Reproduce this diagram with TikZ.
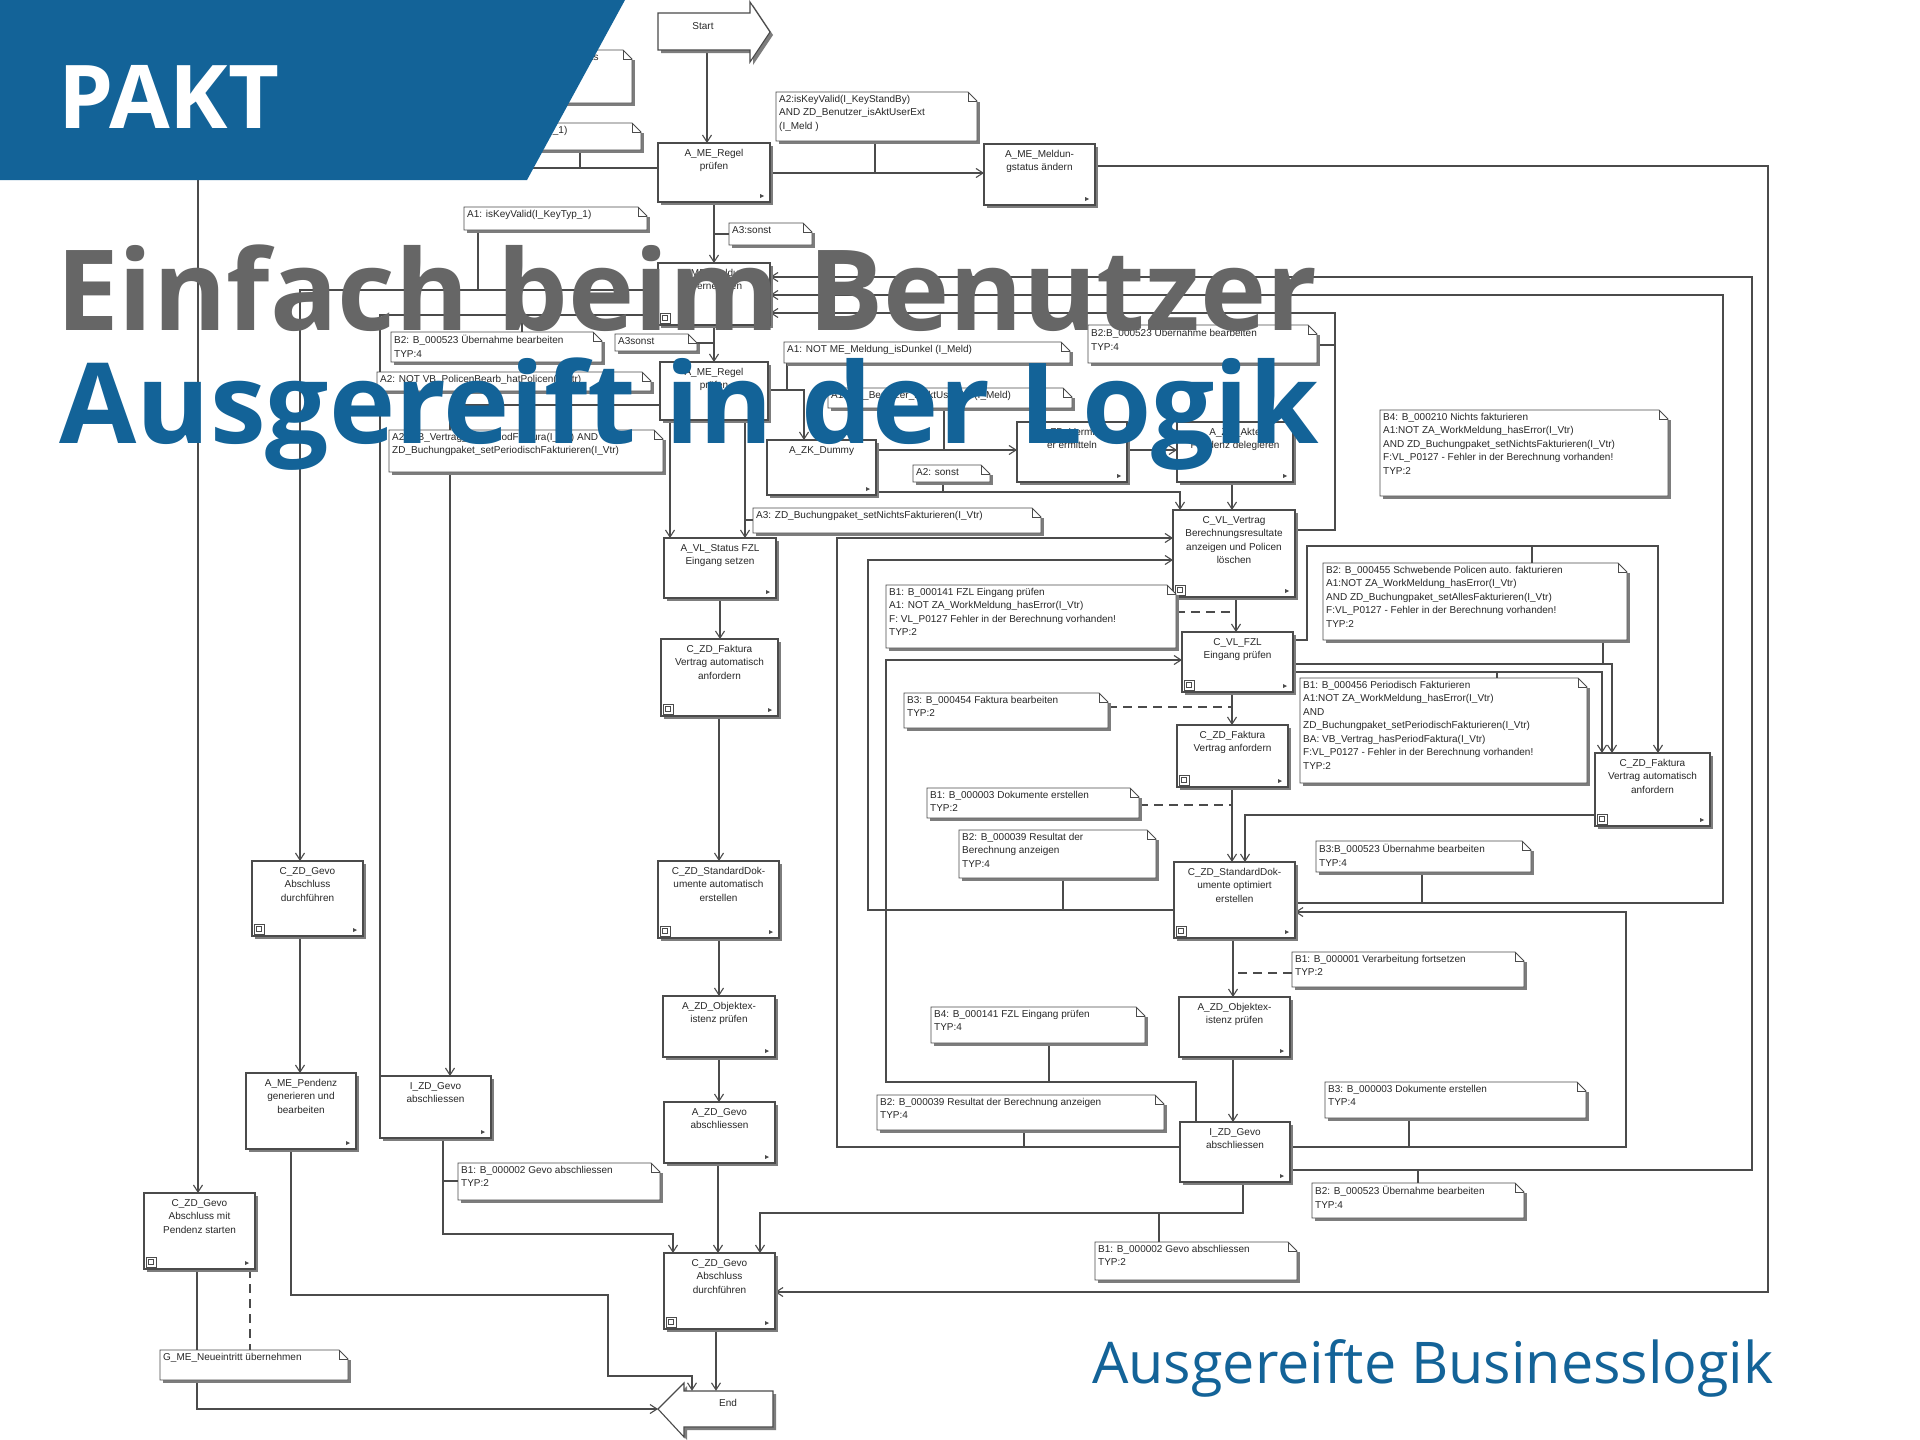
\documentclass[tikz,border=0pt]{standalone}
\usepackage{fontspec}
\setmainfont{Liberation Sans}
\newfontfamily\titlefont{Open Sans}
\usetikzlibrary{arrows.meta}
\pgfdeclarelayer{bg}
\pgfsetlayers{bg,main}
\definecolor{bannerblue}{RGB}{19,99,152}
\definecolor{titlegray}{RGB}{102,102,102}
\definecolor{linec}{RGB}{75,75,75}
\definecolor{shadowc}{RGB}{125,125,125}
\definecolor{textc}{RGB}{40,40,40}
\tikzset{
  ln/.style={draw=linec, line width=1.1pt},
  arr/.style={ln, -{Straight Barb[length=7pt,width=9pt]}},
  dsh/.style={ln, dash pattern=on 9pt off 6pt},
  notel/.style={draw=linec, line width=0.9pt},
  procbox/.style={draw=linec, fill=white, line width=1.1pt, inner sep=0pt, outer sep=0pt},
  boxtext/.style={font=\fontsize{10}{13.5}\selectfont, align=center, text=textc, inner sep=0pt},
  notetext/.style={font=\fontsize{10}{13.5}\selectfont, align=left, text=textc, inner sep=0pt},
}
\newcommand{\procnode}[6]{%
  \fill[shadowc] (#2+3,#3+3) rectangle (#4+3,#5+3);
  \node[procbox, minimum width={#4-#2}, minimum height={#5-#3}] (#1) at ({(#2+#4)/2},{(#3+#5)/2}) {};
  \node[boxtext, anchor=north] (#1-t) at ([yshift=-6pt]#1.north) {#6};
  \fill[linec] ([shift={(-10pt,8pt)}]#1.south east) -- ++(4pt,-2pt) -- ++(-4pt,-2pt) -- cycle;
}
\newcommand{\subicon}[1]{%
  \draw[linec, line width=0.7pt, fill=white] ([shift={(2pt,2pt)}]#1.south west) rectangle ++(10pt,10pt);
  \draw[linec, line width=0.6pt] ([shift={(4.5pt,4.5pt)}]#1.south west) rectangle ++(5pt,5pt);
}
\newcommand{\notenode}[6]{%
  \fill[shadowc] (#2+3,#5) rectangle (#4+3,#5+3);
  \fill[shadowc] (#4,#3+10) rectangle (#4+3,#5+3);
  \node[inner sep=0pt, outer sep=0pt, minimum width={#4-#2}, minimum height={#5-#3}] (#1) at ({(#2+#4)/2},{(#3+#5)/2}) {};
  \draw[notel, fill=white] (#1.north west) -- ([xshift=-9pt]#1.north east) -- ([yshift=-9pt]#1.north east) -- (#1.south east) -- (#1.south west) -- cycle;
  \draw[notel] ([xshift=-9pt]#1.north east) -- ([shift={(-9pt,-9pt)}]#1.north east) -- ([yshift=-9pt]#1.north east);
  \node[notetext, anchor=north west] (#1-t) at ([shift={(3pt,-3pt)}]#1.north west) {#6};
}
\begin{document}
\begin{tikzpicture}[x=1pt, y=-1pt, line join=miter]
\useasboundingbox (0,0) rectangle (1920,1440);

% ---------- Start / End ----------
\fill[shadowc] (661,16) -- (753,16) -- (753,5) -- (773,35) -- (753,65) -- (753,53) -- (661,53) -- cycle;
\draw[procbox] (658,13) -- (750,13) -- (750,2) -- (770,32) -- (750,62) -- (750,50) -- (658,50) -- cycle;
\node[inner sep=0pt, minimum width=92, minimum height=37] (Start) at (704,31.5) {};
\node[boxtext] (Start-t) at (703,26) {Start};

\fill[shadowc] (776,1394) -- (687,1394) -- (687,1386) -- (661,1412) -- (687,1440) -- (687,1430) -- (776,1430) -- cycle;
\draw[procbox] (773,1391) -- (684,1391) -- (684,1383) -- (658,1409) -- (684,1437) -- (684,1427) -- (773,1427) -- cycle;
\node[inner sep=0pt, minimum width=89, minimum height=36] (End) at (728.5,1409) {};
\coordinate (Endtip) at (658,1409);
\node[boxtext] (End-t) at (728,1403) {End};

% ---------- process boxes ----------
\procnode{R1}{658}{143}{770}{202}{A\_ME\_Regel\\prüfen}
\procnode{MS}{984}{144}{1095}{205}{A\_ME\_Meldun-\\gstatus ändern}
\procnode{CM}{658}{263}{770}{325}{C\_ME\_Meldung\\übernehmen}\subicon{CM}
\procnode{R2}{660}{362}{768}{420}{A\_ME\_Regel\\prüfen}
\procnode{ZK}{767}{440}{876}{495}{A\_ZK\_Dummy}
\procnode{VE}{1017}{422}{1127}{482}{A\_ZD\_Vermittl-\\er ermitteln}
\procnode{PD}{1177}{422}{1293}{482}{A\_ZD\_Akte\\Pendenz delegieren}
\procnode{CV}{1173}{510}{1295}{597}{C\_VL\_Vertrag\\Berechnungsresultate\\anzeigen und Policen\\löschen}\subicon{CV}
\procnode{VS}{664}{538}{776}{598}{A\_VL\_Status FZL\\Eingang setzen}
\procnode{CF}{1182}{632}{1293}{692}{C\_VL\_FZL\\Eingang prüfen}\subicon{CF}
\procnode{FA1}{661}{639}{778}{716}{C\_ZD\_Faktura\\Vertrag automatisch\\anfordern}\subicon{FA1}
\procnode{FV}{1177}{725}{1288}{787}{C\_ZD\_Faktura\\Vertrag anfordern}\subicon{FV}
\procnode{FA2}{1595}{753}{1710}{826}{C\_ZD\_Faktura\\Vertrag automatisch\\anfordern}\subicon{FA2}
\procnode{SD1}{658}{861}{779}{938}{C\_ZD\_StandardDok-\\umente automatisch\\erstellen}\subicon{SD1}
\procnode{SD2}{1174}{862}{1295}{938}{C\_ZD\_StandardDok-\\umente optimiert\\erstellen}\subicon{SD2}
\procnode{GA1}{252}{861}{363}{936}{C\_ZD\_Gevo\\Abschluss\\durchführen}\subicon{GA1}
\procnode{OE1}{663}{996}{775}{1057}{A\_ZD\_Objektex-\\istenz prüfen}
\procnode{OE2}{1179}{997}{1290}{1057}{A\_ZD\_Objektex-\\istenz prüfen}
\procnode{PG}{246}{1073}{356}{1149}{A\_ME\_Pendenz\\generieren und\\bearbeiten}
\procnode{IG1}{380}{1076}{491}{1138}{I\_ZD\_Gevo\\abschliessen}
\procnode{AG}{664}{1102}{775}{1163}{A\_ZD\_Gevo\\abschliessen}
\procnode{IG2}{1180}{1122}{1290}{1182}{I\_ZD\_Gevo\\abschliessen}
\procnode{GP}{144}{1193}{255}{1269}{C\_ZD\_Gevo\\Abschluss mit\\Pendenz starten}\subicon{GP}
\procnode{GA2}{664}{1253}{775}{1329}{C\_ZD\_Gevo\\Abschluss\\durchführen}\subicon{GA2}

% ---------- notes ----------
\notenode{NTLa}{470}{50}{632}{103}{A1: ZD\_Meldung\_isDefaults}
\notenode{NTLb}{440}{123}{641}{150}{A2: isKeyValid(I\_KeyTyp\_1)}
\notenode{NAtop}{776}{92}{977}{141}{A2:isKeyValid(I\_KeyStandBy)\\AND ZD\_Benutzer\_isAktUserExt\\(I\_Meld )}
\notenode{NAone}{464}{207}{647}{230}{A1: isKeyValid(I\_KeyTyp\_1)}
\notenode{NAthreea}{729}{223}{812}{245}{A3:sonst}
\notenode{NBtwoa}{391}{332}{602}{362}{B2: B\_000523 Übernahme bearbeiten\\TYP:4}
\notenode{NAthreeb}{615}{334}{697}{351}{A3sonst}
\notenode{NBtwob}{1088}{325}{1317}{363}{B2:B\_000523 Übernahme bearbeiten\\TYP:4}
\notenode{NAonenot}{784}{342}{1070}{363}{A1: NOT ME\_Meldung\_isDunkel (I\_Meld)}
\notenode{NAtwonot}{377}{372}{651}{391}{A2: NOT VB\_PolicenBearb\_hatPolicen(I\_Vtr)}
\notenode{NAonehid}{828}{388}{1072}{408}{A1: ZD\_Benutzer\_isAktUserExt (I\_Meld)}
\notenode{NAtwovb}{389}{430}{663}{472}{A2: VB\_Vertrag\_hasPeriodFaktura(I\_Vtr) AND\\ZD\_Buchungpaket\_setPeriodischFakturieren(I\_Vtr)}
\notenode{NAtwos}{913}{465}{990}{482}{A2: sonst}
\notenode{NAthreec}{753}{508}{1041}{533}{A3: ZD\_Buchungpaket\_setNichtsFakturieren(I\_Vtr)}
\notenode{NBfour}{1380}{410}{1668}{496}{B4: B\_000210 Nichts fakturieren\\A1:NOT ZA\_WorkMeldung\_hasError(I\_Vtr)\\AND ZD\_Buchungpaket\_setNichtsFakturieren(I\_Vtr)\\F:VL\_P0127 - Fehler in der Berechnung vorhanden!\\TYP:2}
\notenode{NBtwosch}{1323}{563}{1627}{640}{B2: B\_000455 Schwebende Policen auto. fakturieren\\A1:NOT ZA\_WorkMeldung\_hasError(I\_Vtr)\\AND ZD\_Buchungpaket\_setAllesFakturieren(I\_Vtr)\\F:VL\_P0127 - Fehler in der Berechnung vorhanden!\\TYP:2}
\notenode{NBonefzl}{886}{585}{1176}{648}{B1: B\_000141 FZL Eingang prüfen\\A1: NOT ZA\_WorkMeldung\_hasError(I\_Vtr)\\F: VL\_P0127 Fehler in der Berechnung vorhanden!\\TYP:2}
\notenode{NBoneper}{1300}{678}{1587}{783}{B1: B\_000456 Periodisch Fakturieren\\A1:NOT ZA\_WorkMeldung\_hasError(I\_Vtr)\\AND\\ZD\_Buchungpaket\_setPeriodischFakturieren(I\_Vtr)\\BA: VB\_Vertrag\_hasPeriodFaktura(I\_Vtr)\\F:VL\_P0127 - Fehler in der Berechnung vorhanden!\\TYP:2}
\notenode{NBthreefak}{904}{693}{1108}{728}{B3: B\_000454 Faktura bearbeiten\\TYP:2}
\notenode{NBonedok}{927}{788}{1139}{818}{B1: B\_000003 Dokumente erstellen\\TYP:2}
\notenode{NBtwores}{959}{830}{1156}{878}{B2: B\_000039 Resultat der\\Berechnung anzeigen\\TYP:4}
\notenode{NBthreeueb}{1316}{841}{1531}{872}{B3:B\_000523 Übernahme bearbeiten\\TYP:4}
\notenode{NBonever}{1292}{952}{1524}{987}{B1: B\_000001 Verarbeitung fortsetzen\\TYP:2}
\notenode{NBfourfzl}{931}{1007}{1145}{1043}{B4: B\_000141 FZL Eingang prüfen\\TYP:4}
\notenode{NBthreedok}{1325}{1082}{1586}{1118}{B3: B\_000003 Dokumente erstellen\\TYP:4}
\notenode{NBtworesb}{877}{1095}{1164}{1130}{B2: B\_000039 Resultat der Berechnung anzeigen\\TYP:4}
\notenode{NBonegevoL}{458}{1163}{660}{1200}{B1: B\_000002 Gevo abschliessen\\TYP:2}
\notenode{NBtwoueb}{1312}{1183}{1524}{1218}{B2: B\_000523 Übernahme bearbeiten\\TYP:4}
\notenode{NBonegevo}{1095}{1242}{1297}{1280}{B1: B\_000002 Gevo abschliessen\\TYP:2}
\notenode{NGME}{160}{1350}{348}{1380}{G\_ME\_Neueintritt übernehmen}

% ---------- connectors (behind) ----------
\begin{pgfonlayer}{bg}
\fill[white] (0,0) rectangle (1920,1440);
\draw[arr] (Start.south -| 707,0) -- (R1.north -| 707,0);
\draw[arr] (R1.east |- 0,173) -- (MS.west |- 0,173);
\draw[arr] (MS.east |- 0,166) -- (1768,166) -- (1768,1292) -- (GA2.east |- 0,1292);
\draw[arr] (R1.south -| 714,0) -- (CM.north -| 714,0);
\draw[arr] (R1.west |- 0,168) -- (198,168) -- (GP.north -| 198,0);
\draw[arr] (CM.west |- 0,290) -- (300,290) -- (GA1.north -| 300,0);
\draw[ln] (CM.west |- 0,315) -- (380,315) -- (IG1.south west);
\draw[arr] (R2.west |- 0,405) -- (450,405) -- (IG1.north -| 450,0);
\draw[arr] (CM.south -| 714,0) -- (R2.north -| 714,0);
\draw[arr] (R2.south -| 670,0) -- (VS.north -| 670,0);
\draw[arr] (R2.south -| 745,0) -- (VS.north -| 745,0);
\draw[arr] (R2.east |- 0,390) -- (804,390) -- (ZK.north -| 804,0);
\draw[arr] (ZK.east |- 0,450) -- (VE.west |- 0,450);
\draw[arr] (ZK.east |- 0,492) -- (1180,492) -- (CV.north -| 1180,0);
\draw[arr] (VE.east |- 0,450) -- (PD.west |- 0,450);
\draw[arr] (PD.south -| 1232,0) -- (CV.north -| 1232,0);
\draw[arr] (CV.east |- 0,530) -- (1335,530) -- (1335,313) -- (CM.east |- 0,313);
\draw[arr] (SD2.east |- 0,903) -- (1723,903) -- (1723,295) -- (CM.east |- 0,295);
\draw[arr] (IG2.east |- 0,1170) -- (1752,1170) -- (1752,277) -- (CM.east |- 0,277);
\draw[arr] (CV.south -| 1236,0) -- (CF.north -| 1236,0);
\draw[arr] (CF.south -| 1232,0) -- (FV.north -| 1232,0);
\draw[arr] (FV.south -| 1232,0) -- (SD2.north -| 1232,0);
\draw[arr] (FA2.west |- 0,815) -- (1245,815) -- (SD2.north -| 1245,0);
\draw[arr] (CF.east |- 0,640) -- (1307,640) -- (1307,546) -- (1658,546) -- (FA2.north -| 1658,0);
\draw[arr] (CF.east |- 0,664) -- (1612,664) -- (FA2.north -| 1612,0);
\draw[arr] (CF.east |- 0,672) -- (1602,672) -- (FA2.north -| 1602,0);
\draw[arr] (SD2.south -| 1233,0) -- (OE2.north -| 1233,0);
\draw[arr] (OE2.south -| 1233,0) -- (IG2.north -| 1233,0);
\draw[arr] (IG2.north -| 1196,0) -- (1196,1082) -- (886,1082) -- (886,660) -- (CF.west |- 0,660);
\draw[arr] (IG2.west |- 0,1147) -- (837,1147) -- (837,538) -- (CV.west |- 0,538);
\draw[arr] (SD2.west |- 0,910) -- (868,910) -- (868,560) -- (CV.west |- 0,560);
\draw[arr] (IG2.east |- 0,1147) -- (1626,1147) -- (1626,912) -- (SD2.east |- 0,912);
\draw[arr] (IG2.south -| 1243,0) -- (1243,1213) -- (760,1213) -- (GA2.north -| 760,0);
\draw[arr] (VS.south -| 720,0) -- (FA1.north -| 720,0);
\draw[arr] (FA1.south -| 719,0) -- (SD1.north -| 719,0);
\draw[arr] (SD1.south -| 719,0) -- (OE1.north -| 719,0);
\draw[arr] (OE1.south -| 719,0) -- (AG.north -| 719,0);
\draw[arr] (AG.south -| 718,0) -- (GA2.north -| 718,0);
\draw[arr] (GA2.south -| 716,0) -- (End.north -| 716,0);
\draw[arr] (IG1.south -| 443,0) -- (443,1234) -- (673,1234) -- (GA2.north -| 673,0);
\draw[arr] (GA1.south -| 300,0) -- (PG.north -| 300,0);
\draw[arr] (PG.south -| 291,0) -- (291,1295) -- (608,1295) -- (608,1376) -- (692,1376) -- (End.north -| 692,0);
\draw[arr] (GP.south -| 197,0) -- (197,1409) -- (Endtip);
% note ties
\draw[ln] (NAtop.south -| 875,0) -- (875,173);
\draw[ln] (NTLb.south -| 580,0) -- (580,168);
\draw[ln] (714,234) -- (NAthreea.west |- 0,234);
\draw[ln] (NAone.south -| 478,0) -- (478,290);
\draw[ln] (NBtwoa.north -| 522,0) -- (522,315);
\draw[ln] (NAthreeb.east |- 0,343) -- (714,343);
\draw[ln] (NAonenot.south -| 787,0) -- (787,390);
\draw[ln] (NAtwonot.south -| 520,0) -- (520,405);
\draw[ln] (NAonehid.south -| 944,0) -- (944,450);
\draw[ln] (NAtwos.south -| 943,0) -- (943,492);
\draw[ln] (745,520) -- (NAthreec.west |- 0,520);
\draw[ln] (NBtwob.east |- 0,345) -- (1335,345);
\draw[ln] (NBtwosch.north -| 1532,0) -- (1532,546);
\draw[ln] (NBtwosch.south -| 1603,0) -- (1603,664);
\draw[ln] (NBoneper.north -| 1497,0) -- (1497,672);
\draw[dsh] (NBonefzl.east |- 0,612) -- (1236,612);
\draw[dsh] (NBthreefak.east |- 0,707) -- (1232,707);
\draw[dsh] (NBonedok.east |- 0,805) -- (1232,805);
\draw[ln] (NBtwores.south -| 1063,0) -- (1063,910);
\draw[ln] (NBthreeueb.south -| 1422,0) -- (1422,903);
\draw[dsh] (NBonever.west |- 0,973) -- (1233,973);
\draw[ln] (NBfourfzl.south -| 1049,0) -- (1049,1082);
\draw[ln] (NBtworesb.south -| 1024,0) -- (1024,1147);
\draw[ln] (NBthreedok.south -| 1409,0) -- (1409,1147);
\draw[ln] (NBtwoueb.north -| 1418,0) -- (1418,1170);
\draw[ln] (NBonegevo.north -| 1159,0) -- (1159,1213);
\draw[ln] (443,1181) -- (NBonegevoL.west |- 0,1181);
\draw[dsh] (GP.south -| 250,0) -- (NGME.north -| 250,0);
\end{pgfonlayer}

% ---------- banner and titles (on top) ----------
\fill[bannerblue] (0,0) -- (625,0) -- (527,180) -- (0,180) -- cycle;
\node[anchor=base west, inner sep=0pt, text=white, font=\titlefont\bfseries\fontsize{88}{88}\selectfont] (pakt) at (58,128) {PAKT};
\node[anchor=base west, inner sep=0pt, text=titlegray, font=\titlefont\bfseries\fontsize{112}{112}\selectfont] (titleone) at (56,330) {Einfach beim Benutzer};
\node[anchor=base west, inner sep=0pt, text=bannerblue, font=\titlefont\bfseries\fontsize{112}{112}\selectfont] (titletwo) at (59,443) {Ausgereift in der Logik};
\node[anchor=base west, inner sep=0pt, text=bannerblue, font=\titlefont\fontsize{57.5}{57.5}\selectfont] (subtitle) at (1092,1383) {Ausgereifte Businesslogik};
\end{tikzpicture}
\end{document}
